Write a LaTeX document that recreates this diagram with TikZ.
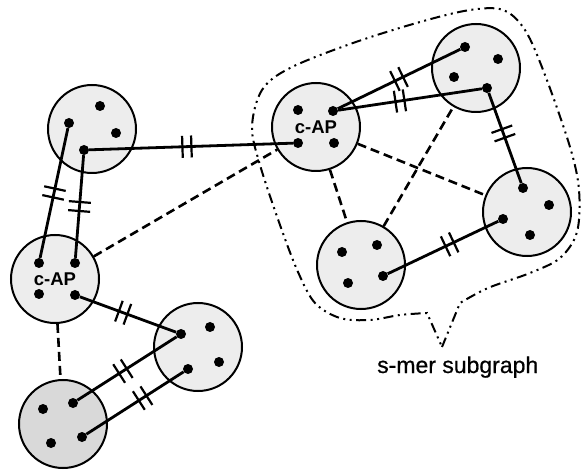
\documentclass[tikz,border=0pt]{standalone}
\usepackage{fontspec}
\setmainfont{Liberation Sans}
\usetikzlibrary{decorations.markings}
\begin{document}
\begin{tikzpicture}[x=1pt,y=-1pt,
  site/.style={circle,draw,line width=2pt,fill=gray!14,minimum size=88pt,inner sep=0pt},
  darksite/.style={site,fill=gray!30},
  atom/.style={circle,fill=black,minimum size=10pt,inner sep=0pt},
  bond/.style={line width=2.8pt},
  cut/.style={bond,postaction={decorate},decoration={markings,mark=at position #1 with {\draw[line width=2.2pt] (-4.5pt,-11pt)--(-4.5pt,11pt) (4.5pt,-11pt)--(4.5pt,11pt);}}},
  cut/.default=0.5,
  link/.style={line width=2.6pt,dash pattern=on 9pt off 5pt},
  region/.style={line width=2pt,dash pattern=on 10pt off 4.5pt on 2pt off 4.5pt on 2pt off 4.5pt},
  lbl/.style={font=\fontsize{18.5}{22}\selectfont\bfseries,inner sep=0pt}
]
\useasboundingbox (0,0) rectangle (581,470);

% outline of the s-mer subgraph with its callout tip
\draw[region] (442,347) -- plot[smooth,tension=0.55] coordinates {
  (460,303) (488,288) (530,273) (560,258) (577,232) (579,190) (570,147)
  (545,75) (525,30) (503,10) (470,10) (420,22) (353,43) (290,68)
  (262,90) (252,127) (260,165) (280,225) (298,272) (315,303) (340,318)
  (370,320) (400,315) (427,313)} -- cycle;

% sites
\node[site] (A) at (92,129) {};
\node[site] (B) at (316,127) {};
\node[site] (C) at (476,68) {};
\node[site] (D) at (527,212) {};
\node[site] (E) at (361,265) {};
\node[site] (F) at (55,279) {};
\node[site] (G) at (198,347) {};
\node[darksite] (H) at (63,424) {};

\node[lbl] (labB) at (316,127) {c-AP};
\node[lbl] (labF) at (55,279) {c-AP};

% atoms
\foreach \n/\p in {A1/{69,123},A2/{100,106},A3/{116,133},A4/{84,150},
                   B1/{298,110},B2/{333,111},B3/{298,143},B4/{334,143},
                   C1/{465,47},C2/{498,59},C3/{454,77},C4/{487,88},
                   D1/{523,188},D2/{549,205},D3/{503,219},D4/{530,235},
                   E1/{342,252},E2/{377,245},E3/{348,283},E4/{383,276},
                   F1/{39,263},F2/{75,263},F3/{39,294},F4/{75,295},
                   G1/{210,327},G2/{181,334},G3/{219,362},G4/{188,369},
                   H1/{43,409},H2/{73,403},H3/{51,443},H4/{82,437}}
  \node[atom] (\n) at (\p) {};

% weak links between sites
\draw[link] (F) -- (B);
\draw[link] (F) -- (H);
\draw[link] (B) -- (E);
\draw[link] (B) -- (D);
\draw[link] (E) -- (C);

% cut bonds
\draw[cut=0.5] (A1) -- (F1);
\draw[cut=0.5] (A4) -- (F2);
\draw[cut=0.48] (A4) -- (B3);
\draw[cut=0.5] (B2) -- (C1);
\draw[cut=0.43] (B2) -- (C4);
\draw[cut=0.45] (C4) -- (D1);
\draw[cut=0.56] (E4) -- (D3);
\draw[cut=0.45] (F4) -- (G2);
\draw[cut=0.46] (H2) -- (G2);
\draw[cut=0.58] (H4) -- (G4);

\node[anchor=base west,inner sep=0pt,font=\fontsize{23}{27}\selectfont\addfontfeature{FakeBold=0.6}] (cap) at (377,373) {s-mer subgraph};
\end{tikzpicture}
\end{document}
